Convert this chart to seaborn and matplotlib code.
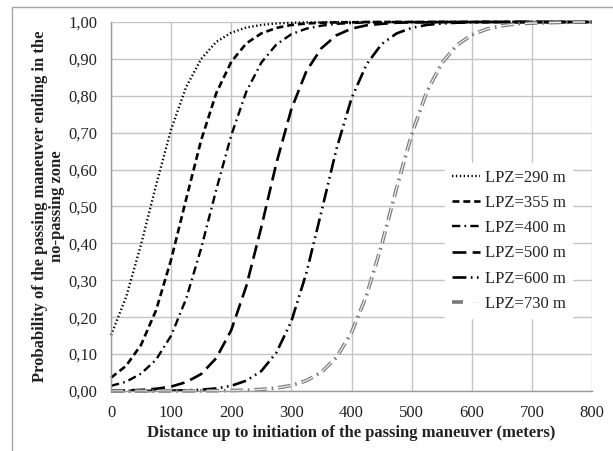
import numpy as np
import pandas as pd
import seaborn as sns
import matplotlib.pyplot as plt
from matplotlib.patches import Rectangle
from matplotlib.ticker import FuncFormatter, MultipleLocator
from matplotlib.legend_handler import HandlerTuple

# distance (m) and probability, one list per LPZ curve
distance = [0, 25, 50, 75, 100, 125, 150, 175, 200, 225, 250, 275, 300, 325, 350, 375, 400,
            425, 450, 475, 500, 525, 550, 575, 600, 625, 650, 675, 700, 725, 750, 775, 800]

lpz290 = [0.151, 0.254, 0.397, 0.558, 0.709, 0.824, 0.900, 0.946, 0.971, 0.985, 0.992, 0.996,
          0.998, 0.999, 0.999] + [1.0] * 18
lpz355 = [0.036, 0.068, 0.125, 0.219, 0.356, 0.520, 0.680, 0.807, 0.892, 0.942, 0.969, 0.984,
          0.992, 0.996, 0.998, 0.999, 0.999] + [1.0] * 16
lpz400 = [0.014, 0.025, 0.047, 0.085, 0.150, 0.250, 0.387, 0.545, 0.693, 0.811, 0.890, 0.939,
          0.967, 0.982, 0.990, 0.995, 0.997, 0.999, 0.999] + [1.0] * 14
lpz500 = [0.001, 0.0015, 0.003, 0.006, 0.012, 0.024, 0.046, 0.089, 0.165, 0.284, 0.444, 0.617,
          0.764, 0.867, 0.929, 0.964, 0.982, 0.991, 0.995, 0.998, 0.999, 0.999] + [1.0] * 11
lpz600 = [0.0, 0.0, 0.0, 0.0005, 0.001, 0.002, 0.0035, 0.007, 0.014, 0.028, 0.054, 0.104,
          0.189, 0.320, 0.486, 0.656, 0.793, 0.885, 0.940, 0.969, 0.984, 0.992, 0.996, 0.998,
          0.999] + [1.0] * 8
lpz730 = [0.0, 0.0, 0.0, 0.0, 0.0001, 0.0002, 0.0004, 0.0007, 0.0013, 0.0024, 0.0044, 0.008,
          0.015, 0.028, 0.051, 0.091, 0.158, 0.259, 0.395, 0.550, 0.695, 0.810, 0.888, 0.937,
          0.965, 0.981, 0.990, 0.995, 0.997, 0.998, 0.999, 1.0, 1.0]

labels = ["LPZ=290 m", "LPZ=355 m", "LPZ=400 m", "LPZ=500 m", "LPZ=600 m", "LPZ=730 m"]
series = [lpz290, lpz355, lpz400, lpz500, lpz600, lpz730]

df = pd.concat([pd.DataFrame({"x": distance, "p": s, "lpz": lab}) for s, lab in zip(series, labels)],
               ignore_index=True)

sns.set_theme(style="whitegrid")
plt.rcParams["font.family"] = ["Liberation Serif", "DejaVu Serif"]
plt.rcParams["lines.scale_dashes"] = False

colors = {lab: "black" for lab in labels}
colors["LPZ=730 m"] = "#7a7a7a"
dashes = {
    "LPZ=290 m": (1.0, 1.8),
    "LPZ=355 m": (5, 2.8),
    "LPZ=400 m": (6, 3, 1.2, 3),
    "LPZ=500 m": (10, 4.5),
    "LPZ=600 m": (10, 3.2, 1.2, 3.2, 1.2, 3.2),
    "LPZ=730 m": (9, 3.5, 1.2, 3.5),
}
widths = {"LPZ=290 m": 1.7, "LPZ=355 m": 1.9, "LPZ=400 m": 1.7,
          "LPZ=500 m": 1.9, "LPZ=600 m": 1.9, "LPZ=730 m": 2.6}

fig = plt.figure(figsize=(6.13, 4.51), dpi=100)
ax = fig.add_axes([111 / 613, 1 - 391 / 451, 481 / 613, 369 / 451])

handles = []
for lab in labels:
    sub = df[df.lpz == lab]
    sns.lineplot(data=sub, x="x", y="p", color=colors[lab], dashes=False, ax=ax,
                 linewidth=widths[lab], estimator=None, sort=False, legend=False)
    line = ax.lines[-1]
    line.set_dashes(dashes[lab])
    line.set_clip_on(False)
    handles.append(line)

# inner light stripe of the grey double line
sub = df[df.lpz == "LPZ=730 m"]
sns.lineplot(data=sub, x="x", y="p", color="#f0f0f0", ax=ax, linewidth=0.9,
             estimator=None, sort=False, legend=False)
inner = ax.lines[-1]
inner.set_dashes((9, 8.2))
inner.set_clip_on(False)

ax.set_xlim(0, 800)
ax.set_ylim(0, 1.0)
ax.xaxis.set_major_locator(MultipleLocator(100))
ax.yaxis.set_major_locator(MultipleLocator(0.1))
ax.yaxis.set_major_formatter(FuncFormatter(lambda v, _: f"{v:.2f}".replace(".", ",")))
ax.grid(True, color="#c4c4c4", linewidth=1.0)
ax.set_axisbelow(True)
for side in ["top", "right"]:
    ax.spines[side].set_visible(False)
for side in ["left", "bottom"]:
    ax.spines[side].set_color("#9a9a9a")
    ax.spines[side].set_linewidth(1.0)
ax.tick_params(axis="both", which="major", labelsize=12, colors="#9a9a9a",
               labelcolor="#222222", length=4, width=1.0, direction="out", pad=6)
ax.tick_params(axis="x", pad=6)

ax.set_xlabel("Distance up to initiation of the passing maneuver (meters)",
              fontsize=12, fontweight="bold", color="#222222", labelpad=3)
ax.set_ylabel("Probability of the passing maneuver ending in the\nno-passing zone",
              fontsize=12, fontweight="bold", color="#222222", labelpad=2, linespacing=1.15)

leg_handles = handles[:5] + [(handles[5], inner)]
leg = ax.legend(leg_handles, labels, loc="upper left", bbox_to_anchor=(0.678, 0.64),
                fontsize=12, frameon=True, facecolor="white", edgecolor="white",
                framealpha=1.0, fancybox=False, handlelength=1.7, handletextpad=0.25,
                labelspacing=0.55, borderpad=0.4,
                handler_map={tuple: HandlerTuple(ndivide=None)})
for t in leg.get_texts():
    t.set_color("#222222")

# outer chart-area frame, cut off at right and bottom like the source
fig.patches.append(Rectangle((12 / 613, -0.2), 1.2, 1.2 - 7 / 451, transform=fig.transFigure,
                             fill=False, edgecolor="#a6a6a6", linewidth=1.0))

fig.savefig("out.png", dpi=100, facecolor="white")
